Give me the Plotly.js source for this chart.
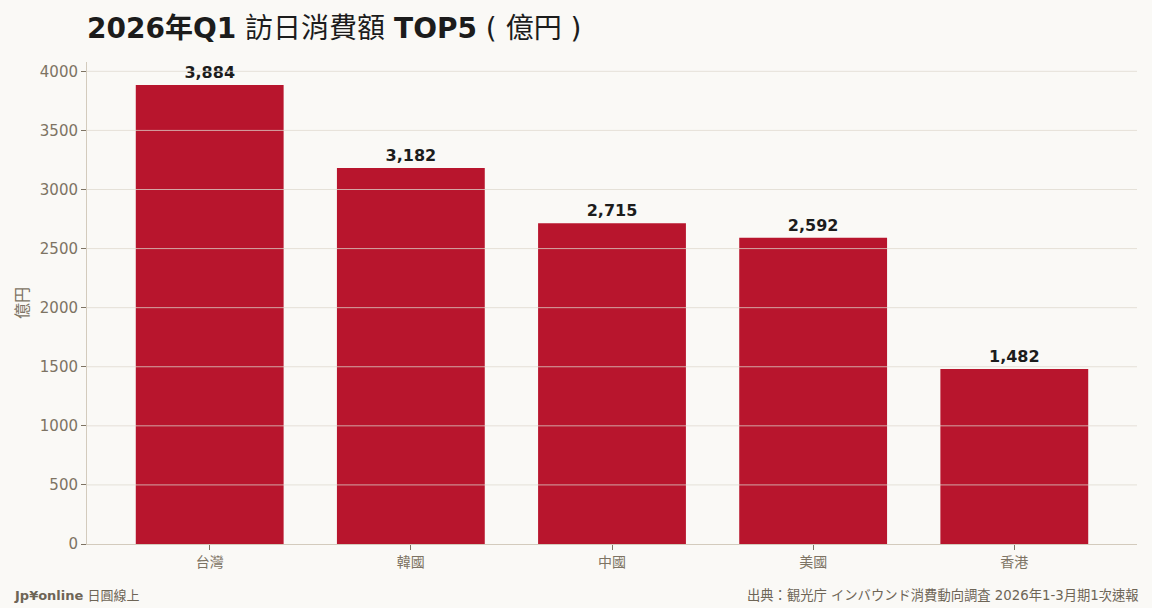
<!DOCTYPE html>
<html>
<head>
<meta charset="utf-8">
<script src="https://cdn.plot.ly/plotly-3.0.1.min.js"></script>
<style>
  html, body { margin: 0; padding: 0; background: #faf9f6; }
  #chart { width: 1152px; height: 608px; }
</style>
</head>
<body>
<div id="chart"></div>
<script>
// data
var regions = ['台灣', '韓國', '中國', '美國', '香港'];
var spend = [3884, 3182, 2715, 2592, 1482];   // 億円
var barLabels = ['3,884', '3,182', '2,715', '2,592', '1,482'];
var gridVals = [500, 1000, 1500, 2000, 2500, 3000, 3500, 4000];

var fontFam = '"DejaVu Sans", "Noto Sans CJK TC", sans-serif';
var axisCol = '#d3cbbd';
var tickCol = '#7d7363';

// plot box in pixels (for placing the footers)
var W = 1152, H = 608;
var mL = 87, mR = 15, mT = 62, mB = 64;
var plotW = W - mL - mR, plotH = H - mT - mB;
function px2x(px) { return (px - mL) / plotW; }
function px2y(py) { return (H - mB - py) / plotH; }

var trace = {
    type: 'bar',
    x: regions,
    y: spend,
    text: barLabels,
    textposition: 'outside',
    cliponaxis: false,
    textfont: { family: fontFam, size: 16, color: '#1c1c1c', weight: 'bold' },
    marker: { color: '#b8152d' },
    hoverinfo: 'x+y'
};

// gridlines sit above the bars in the reference
var gridShapes = [];
for (var i = 0; i < gridVals.length; i++) {
    gridShapes.push({
        type: 'line', layer: 'above',
        xref: 'paper', x0: 0, x1: 1,
        yref: 'y', y0: gridVals[i], y1: gridVals[i],
        line: { color: 'rgba(222,216,205,0.75)', width: 1 }
    });
}

var layout = {
    width: W, height: H,
    paper_bgcolor: '#faf9f6',
    plot_bgcolor: '#faf9f6',
    margin: { l: mL, r: mR, t: mT, b: mB, pad: 0 },
    font: { family: fontFam, color: tickCol },
    bargap: 0.265,
    showlegend: false,
    title: {
        text: '<b>2026年Q1</b> 訪日消費額 <b>TOP5</b> ( 億円 )',
        font: { family: fontFam, size: 28, color: '#1c1c1c' },
        xref: 'container', x: 87 / W, xanchor: 'left',
        yref: 'container', y: 1 - 28 / H, yanchor: 'middle'
    },
    xaxis: {
        type: 'category',
        range: [-0.61, 4.61],
        showline: true, linecolor: axisCol, linewidth: 1,
        ticks: 'outside', ticklen: 5, tickcolor: tickCol, tickwidth: 1,
        tickfont: { family: fontFam, size: 14, color: tickCol },
        showgrid: false, zeroline: false
    },
    yaxis: {
        range: [0, 4079],
        tickvals: [0, 500, 1000, 1500, 2000, 2500, 3000, 3500, 4000],
        showline: true, linecolor: axisCol, linewidth: 1,
        ticks: 'outside', ticklen: 5, tickcolor: tickCol, tickwidth: 1,
        tickfont: { family: fontFam, size: 15, color: tickCol },
        showgrid: false, zeroline: false,
        title: { text: '億円', font: { family: fontFam, size: 16, color: tickCol }, standoff: 7 }
    },
    shapes: gridShapes,
    annotations: [
        {
            text: '<b>Jp¥online</b> 日圓線上',
            xref: 'paper', yref: 'paper',
            x: px2x(12), y: px2y(595), xanchor: 'left', yanchor: 'middle',
            showarrow: false,
            font: { family: fontFam, size: 13, color: '#6e6556' }
        },
        {
            text: '出典：観光庁 インバウンド消費動向調査 2026年1-3月期1次速報',
            xref: 'paper', yref: 'paper',
            x: px2x(1141), y: px2y(595), xanchor: 'right', yanchor: 'middle',
            showarrow: false,
            font: { family: fontFam, size: 13.3, color: '#6e6556' }
        }
    ]
};

Plotly.newPlot('chart', [trace], layout, { displayModeBar: false, staticPlot: true });
</script>
</body>
</html>
